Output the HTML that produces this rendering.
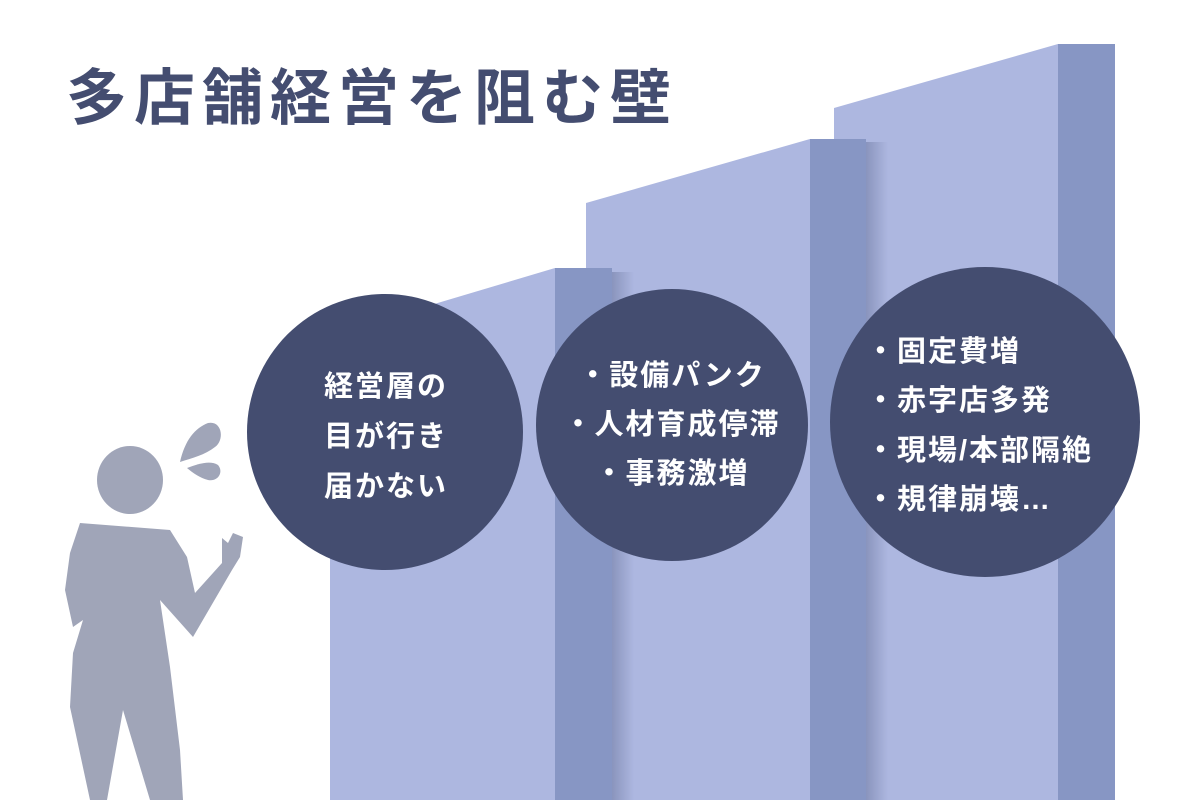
<!DOCTYPE html>
<html><head><meta charset="utf-8"><style>
body{margin:0;width:1200px;height:800px;overflow:hidden;background:#fff;font-family:"Liberation Sans","Noto Sans CJK JP",sans-serif;}
svg{position:absolute;left:0;top:0}
</style></head><body>
<svg width="1200" height="800" viewBox="0 0 1200 800">
<defs>
<linearGradient id="sh" x1="0" x2="1"><stop offset="0" stop-color="#6d78a0" stop-opacity=".55"/><stop offset="1" stop-color="#6d78a0" stop-opacity="0"/></linearGradient>
</defs>
<text x="66" y="119" font-size="61" font-weight="bold" fill="#444d70" font-family="Liberation Sans,Noto Sans CJK JP,sans-serif" letter-spacing="7">多店舗経営を阻む壁</text>
<polygon points="834,108 1058,44 1058,800 834,800" fill="#adb7e0"/>
<rect x="1058" y="44" width="57" height="756" fill="#8796c4"/>
<rect x="866" y="142" width="22" height="658" fill="url(#sh)"/>
<polygon points="586,203 810,139 810,800 586,800" fill="#adb7e0"/>
<rect x="810" y="139" width="56" height="661" fill="#8796c4"/>
<rect x="612" y="272" width="22" height="528" fill="url(#sh)"/>
<polygon points="330,335 555,268 555,800 330,800" fill="#adb7e0"/>
<rect x="555" y="268" width="57" height="532" fill="#8796c4"/>
<circle cx="385" cy="432" r="138" fill="#444d70"/>
<circle cx="672" cy="425" r="136" fill="#444d70"/>
<circle cx="985" cy="422" r="155" fill="#444d70"/>
<g fill="#fff" font-size="29" font-weight="bold" font-family="Liberation Sans,Noto Sans CJK JP,sans-serif" letter-spacing="2">
<text x="386" y="396" text-anchor="middle">経営層の</text>
<text x="386" y="446" text-anchor="middle">目が行き</text>
<text x="386" y="496" text-anchor="middle">届かない</text>
<text x="672" y="385" text-anchor="middle">・設備パンク</text>
<text x="672" y="434" text-anchor="middle">・人材育成停滞</text>
<text x="672" y="483" text-anchor="middle">・事務激増</text>
<text x="866" y="361">・固定費増</text>
<text x="866" y="410">・赤字店多発</text>
<text x="866" y="460">・現場/本部隔絶</text>
<text x="866" y="509">・規律崩壊…</text>
</g>
<g fill="#a0a5b8">
<ellipse cx="130" cy="480" rx="33" ry="34"/>
<polygon points="80,523 170,530 187,557 195,593 222,563 222,538 228,543 233,533 243,537 240,557 232,570 193,637 160,600 170,667 180,750 183,800 150,800 123,710 107,800 90,800 70,707 73,653 83,620 73,627 65,590 70,553"/>
<path d="M180,462 C185,440 195,428 208,423 C222,420 225,440 215,447 C205,455 192,458 180,462Z"/>
<path d="M187,468 C198,464 210,460 218,465 C224,472 218,482 208,480 C200,478 193,473 187,468Z"/>
</g>
</svg>
</body></html>
